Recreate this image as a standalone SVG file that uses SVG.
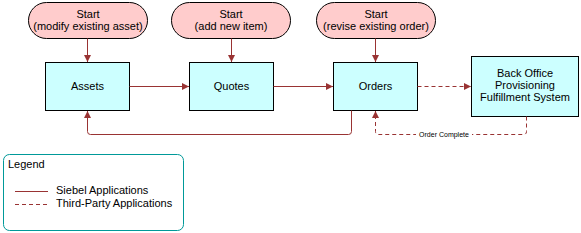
<svg xmlns="http://www.w3.org/2000/svg" width="581" height="233" viewBox="0 0 581 233">
<style>
text{font-family:"Liberation Sans",Arial,sans-serif;font-size:11px;fill:#000}
.c{text-anchor:middle}
.pill{fill:#FFCCCC;stroke:#000;stroke-width:1}
.box{fill:#CCFFFF;stroke:#000;stroke-width:1}
.ln{fill:none;stroke:#993333;stroke-width:1}
.d{stroke-dasharray:4,3}
</style>
<defs>
<marker id="ah" viewBox="0 0 10 10" refX="10" refY="5" markerWidth="7" markerHeight="7" orient="auto" markerUnits="userSpaceOnUse">
<path d="M0,0 L10,5 L0,10 z" fill="#993333"/>
</marker>
</defs>
<g id="start1"><rect class="pill" x="28.5" y="2.5" width="119" height="36" rx="18"/><text class="c" x="88" y="18">Start</text><text class="c" x="88" y="30">(modify existing asset)</text></g>
<g id="start2"><rect class="pill" x="171.5" y="2.5" width="119" height="36" rx="18"/><text class="c" x="231" y="18">Start</text><text class="c" x="231" y="30">(add new item)</text></g>
<g id="start3"><rect class="pill" x="316.5" y="2.5" width="119" height="36" rx="18"/><text class="c" x="376" y="18">Start</text><text class="c" x="376" y="30">(revise existing order)</text></g>
<g id="assets"><rect class="box" x="45.5" y="62.5" width="84" height="48"/><text class="c" x="87.5" y="90">Assets</text></g>
<g id="quotes"><rect class="box" x="189.5" y="62.5" width="84" height="48"/><text class="c" x="231.5" y="90">Quotes</text></g>
<g id="orders"><rect class="box" x="333.5" y="62.5" width="84" height="48"/><text class="c" x="375.5" y="90">Orders</text></g>
<g id="backoffice"><rect class="box" x="471.5" y="56.5" width="107" height="60"/><text class="c" x="525" y="77">Back Office</text><text class="c" x="525" y="89">Provisioning</text><text class="c" x="525" y="101">Fulfillment System</text></g>
<g id="connectors">
<line class="ln" x1="87.5" y1="38.5" x2="87.5" y2="62" marker-end="url(#ah)"/>
<line class="ln" x1="231.5" y1="38.5" x2="231.5" y2="62" marker-end="url(#ah)"/>
<line class="ln" x1="375.5" y1="38.5" x2="375.5" y2="62" marker-end="url(#ah)"/>
<line class="ln" x1="129.5" y1="86.5" x2="189" y2="86.5" marker-end="url(#ah)"/>
<line class="ln" x1="273.5" y1="86.5" x2="333" y2="86.5" marker-end="url(#ah)"/>
<line class="ln d" x1="417.5" y1="86.5" x2="471" y2="86.5" marker-end="url(#ah)"/>
<path class="ln" d="M351.5,110.5 V131.5 Q351.5,134.5 348.5,134.5 H90.5 Q87.5,134.5 87.5,131.5 V111" marker-end="url(#ah)"/>
<path class="ln d" d="M526.5,116.5 V131.5 Q526.5,134.5 523.5,134.5 H378.5 Q375.5,134.5 375.5,131.5 V111" marker-end="url(#ah)"/>
<rect x="416" y="130" width="56" height="8" fill="#fff"/>
<text class="c" x="444" y="137" style="font-size:7px">Order Complete</text>
</g>
<g id="legend">
<rect x="3.5" y="154.5" width="180" height="76" rx="6" fill="#fff" stroke="#009999"/>
<text x="8" y="168">Legend</text>
<line class="ln" x1="15" y1="191.5" x2="48" y2="191.5"/>
<text x="56" y="194">Siebel Applications</text>
<line class="ln d" x1="15" y1="204.5" x2="48" y2="204.5"/>
<text x="56" y="207">Third-Party Applications</text>
</g>
</svg>
